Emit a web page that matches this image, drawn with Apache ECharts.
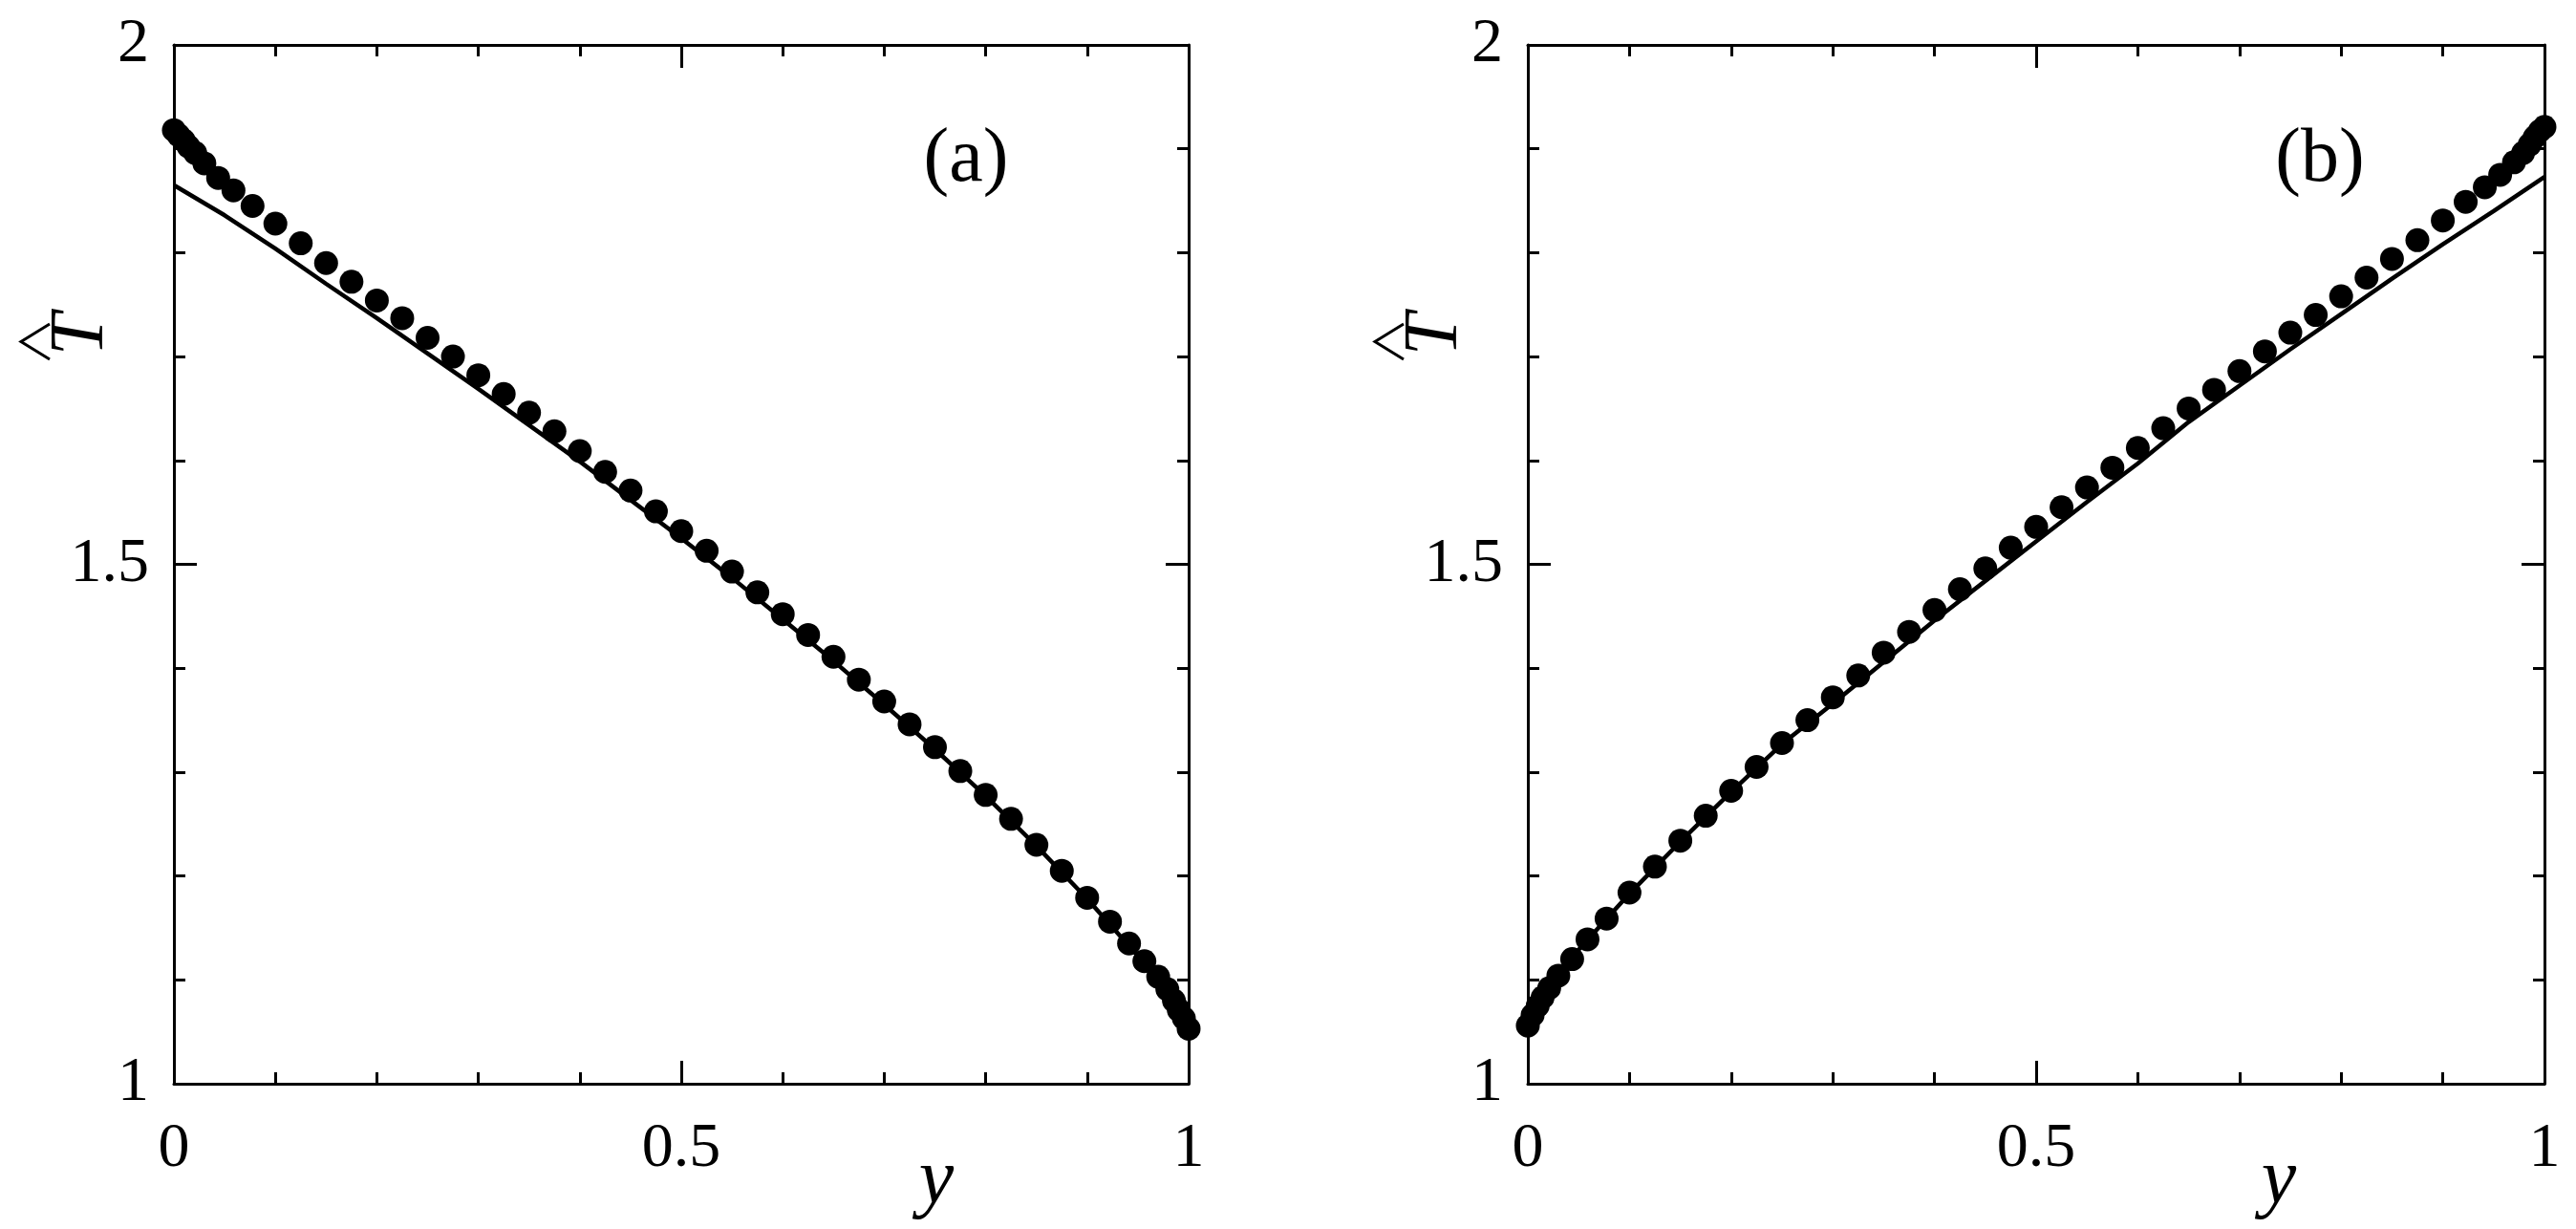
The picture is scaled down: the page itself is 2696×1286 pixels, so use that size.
<!DOCTYPE html>
<html>
<head>
<meta charset="utf-8">
<script src="https://cdn.jsdelivr.net/npm/echarts@6/dist/echarts.min.js"></script>
<style>
html,body{margin:0;padding:0;background:#fff;}
#chart{width:2696px;height:1286px;}
</style>
</head>
<body>
<div id="chart"></div>
<script>
// ---- data ----
const dotX = [0, 0.0047, 0.0097, 0.0145, 0.021, 0.030, 0.0436, 0.0587, 0.0775,
  0.1, 0.125, 0.15, 0.175, 0.2, 0.225, 0.25, 0.275, 0.3, 0.325, 0.35, 0.375, 0.4, 0.425, 0.45, 0.475,
  0.5, 0.525, 0.55, 0.575, 0.6, 0.625, 0.65, 0.675, 0.7, 0.725, 0.75, 0.775, 0.8, 0.825, 0.85, 0.875, 0.9,
  0.9225, 0.9413, 0.9564, 0.970, 0.979, 0.9855, 0.9903, 0.9953, 1];
const dotA = [1.918, 1.913, 1.908, 1.902, 1.896, 1.886, 1.872, 1.860, 1.845,
  1.828, 1.809, 1.790, 1.772, 1.754, 1.737, 1.718, 1.700, 1.682, 1.664, 1.646, 1.628, 1.609, 1.589, 1.571, 1.551,
  1.532, 1.513, 1.493, 1.473, 1.452, 1.432, 1.411, 1.389, 1.368, 1.346, 1.324, 1.301, 1.278, 1.255, 1.230, 1.205, 1.179,
  1.156, 1.135, 1.118, 1.103, 1.091, 1.080, 1.071, 1.063, 1.053];
const dotB = [1.056, 1.066, 1.075, 1.083, 1.092, 1.104, 1.120, 1.139, 1.159,
  1.184, 1.209, 1.234, 1.258, 1.282, 1.305, 1.328, 1.350, 1.372, 1.393, 1.415, 1.435, 1.456, 1.476, 1.496, 1.516,
  1.536, 1.555, 1.574, 1.593, 1.612, 1.631, 1.650, 1.668, 1.686, 1.705, 1.723, 1.740, 1.758, 1.776, 1.794, 1.812, 1.831,
  1.849, 1.863, 1.875, 1.887, 1.896, 1.904, 1.911, 1.917, 1.921];
const lineX = [0, 0.05, 0.1, 0.15, 0.2, 0.25, 0.3, 0.35, 0.4, 0.45, 0.5, 0.55, 0.6, 0.65, 0.7, 0.75, 0.8, 0.85, 0.9, 0.95, 1];
const lineA = [1.865, 1.836, 1.804, 1.770, 1.737, 1.703, 1.669, 1.634, 1.599, 1.562, 1.525, 1.487, 1.447, 1.407, 1.365, 1.322, 1.277, 1.229, 1.178, 1.123, 1.056];
const lineB = [1.056, 1.129, 1.183, 1.233, 1.281, 1.327, 1.366, 1.406, 1.446, 1.484, 1.522, 1.560, 1.597, 1.637, 1.672, 1.707, 1.741, 1.775, 1.808, 1.840, 1.873];
const xTicks = {min: 0, max: 1, interval: 0.5};
const yTicks = {min: 1, max: 2, interval: 0.5};
const panelLabels = ['(a)', '(b)'];
const xName = 'y';
const yName = 'T';

// ---- layout ----
const SERIF = '"Liberation Serif", "Times New Roman", serif';
const grids = [
  {left: 182, top: 47, width: 1062, height: 1087},
  {left: 1599, top: 47, width: 1064, height: 1087}
];
const zip = (a, b) => a.map((v, i) => [v, b[i]]);

function axisCommon(showLabel, margin) {
  return {
    axisLine: {show: true, onZero: false, lineStyle: {color: '#000', width: 3}},
    axisTick: {show: true, inside: true, length: 24, lineStyle: {color: '#000', width: 3}},
    minorTick: {show: true, splitNumber: 5, length: 12, lineStyle: {color: '#000', width: 3}},
    splitLine: {show: false},
    minorSplitLine: {show: false},
    axisLabel: {show: showLabel, color: '#000', fontFamily: SERIF, fontSize: 66, margin: margin}
  };
}

const xAxes = [], yAxes = [];
grids.forEach((g, gi) => {
  xAxes.push(Object.assign({type: 'value', gridIndex: gi, position: 'bottom'}, xTicks, axisCommon(true, 36)));
  xAxes.push(Object.assign({type: 'value', gridIndex: gi, position: 'top'}, xTicks, axisCommon(false, 8)));
  yAxes.push(Object.assign({type: 'value', gridIndex: gi, position: 'left'}, yTicks, axisCommon(true, 26)));
  yAxes.push(Object.assign({type: 'value', gridIndex: gi, position: 'right'}, yTicks, axisCommon(false, 8)));
});

const panels = [{dots: dotA, line: lineA}, {dots: dotB, line: lineB}];
const series = [];
panels.forEach((p, gi) => {
  series.push({
    type: 'line', xAxisIndex: gi * 2, yAxisIndex: gi * 2,
    data: zip(lineX, p.line), showSymbol: false, symbol: 'none',
    lineStyle: {color: '#000', width: 4.5}, z: 2
  });
  series.push({
    type: 'scatter', xAxisIndex: gi * 2, yAxisIndex: gi * 2,
    data: zip(dotX, p.dots), symbol: 'circle', symbolSize: 25,
    itemStyle: {color: '#000', opacity: 1}, z: 3
  });
});

const graphic = [];
grids.forEach((g, gi) => {
  graphic.push({type: 'text', x: g.left + 829, y: 168,
    style: {text: panelLabels[gi], font: '80px ' + SERIF, fill: '#000', textAlign: 'center', textVerticalAlign: 'middle'}});
  graphic.push({type: 'text', x: g.left + (gi === 0 ? 798 : 786), y: 1236,
    style: {text: xName, font: 'italic 82px ' + SERIF, fill: '#000', textAlign: 'center', textVerticalAlign: 'middle'}});
  graphic.push({type: 'text', x: g.left - 96, y: 350, rotation: Math.PI / 2,
    style: {text: yName, font: 'italic 80px ' + SERIF, fill: '#000', textAlign: 'center', textVerticalAlign: 'middle'}});
  graphic.push({type: 'polyline', shape: {points: [[g.left - 130, 339], [g.left - 160, 357.5], [g.left - 130, 376]]},
    style: {stroke: '#000', lineWidth: 3, fill: null}});
});

const chart = echarts.init(document.getElementById('chart'), null, {renderer: 'canvas'});
chart.setOption({
  animation: false,
  backgroundColor: '#fff',
  grid: grids.map(g => Object.assign({containLabel: false, outerBoundsMode: 'none'}, g)),
  xAxis: xAxes,
  yAxis: yAxes,
  series: series,
  graphic: graphic
});
</script>
</body>
</html>
